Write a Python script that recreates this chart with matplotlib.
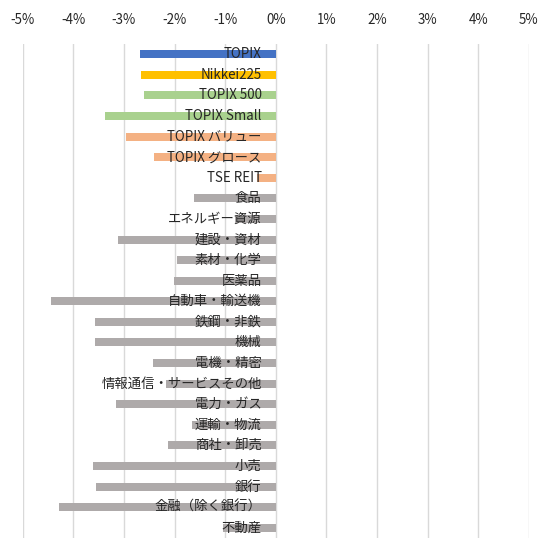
import matplotlib
matplotlib.use("Agg")
import matplotlib.pyplot as plt
from matplotlib.ticker import FuncFormatter

plt.rcParams["font.family"] = ["Noto Sans CJK JP", "DejaVu Sans"]

# category names, top to bottom
labels = [
    "TOPIX", "Nikkei225", "TOPIX 500", "TOPIX Small", "TOPIX バリュー",
    "TOPIX グロース", "TSE REIT", "食品", "エネルギー資源", "建設・資材",
    "素材・化学", "医薬品", "自動車・輸送機", "鉄鋼・非鉄", "機械",
    "電機・精密", "情報通信・サービスその他", "電力・ガス", "運輸・物流",
    "商社・卸売", "小売", "銀行", "金融（除く銀行）", "不動産",
]
# returns in %
values = [
    -2.69, -2.67, -2.61, -3.38, -2.96,
    -2.41, -0.37, -1.62, -0.80, -3.12,
    -1.96, -2.02, -4.44, -3.57, -3.57,
    -2.43, -2.16, -3.16, -1.65, -2.14,
    -3.61, -3.55, -4.28, -1.05,
]
colors = (["#4472C4", "#FFC000", "#A9D18E", "#A9D18E", "#F4B183", "#F4B183", "#F4B183"]
          + ["#AEAAAA"] * 17)

fig = plt.figure(figsize=(5.49, 5.54), dpi=100)
ax = fig.add_axes([22.7 / 549, 16 / 554, (529 - 22.7) / 549, (538 - 44) / 554])

ypos = list(range(len(labels)))
ax.barh(ypos, values, height=0.39, color=colors, zorder=2)

for y, lab in zip(ypos, labels):
    ax.text(-0.28, y, lab, ha="right", va="center", fontsize=9.6,
            color="#262626", zorder=3)

ax.set_xlim(-5, 5)
ax.set_ylim(len(labels) - 0.5, -0.5)
ax.set_xticks(range(-5, 6))
ax.xaxis.set_major_formatter(FuncFormatter(lambda v, p: f"{int(v)}%"))
ax.xaxis.tick_top()
ax.tick_params(axis="x", length=0, labelsize=9.6, labelcolor="#262626", pad=12)
ax.set_yticks([])
ax.grid(axis="x", color="#D9D9D9", linewidth=1, zorder=0)
for s in ax.spines.values():
    s.set_visible(False)

fig.savefig("out.png", dpi=100)
